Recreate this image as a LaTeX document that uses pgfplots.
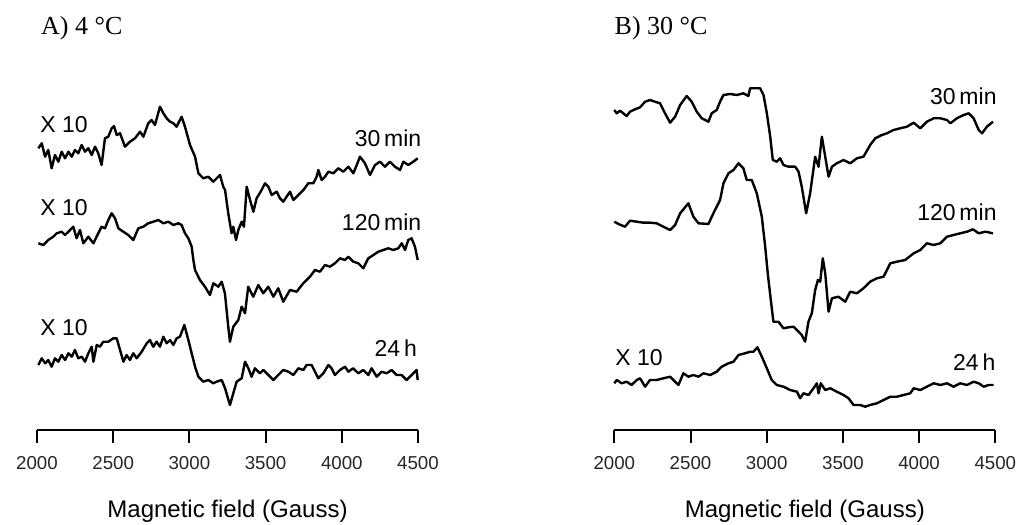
\documentclass[border=0pt]{standalone}
\usepackage{fontspec}
\setmainfont{Liberation Sans}
\newfontfamily\seriffont{Liberation Serif}
\usepackage{pgfplots}
\pgfplotsset{compat=1.18}
\tikzset{lab/.style={inner sep=0pt, font=\fontsize{11.5}{13}\selectfont},
  trace/.style={black, no markers, line width=1.2pt, line join=round}}
\pgfplotsset{
  epr/.style={
    scale only axis, width=190.5pt, height=175pt,
    xmin=2000, xmax=4500, ymin=0, ymax=350,
    axis x line*=bottom, hide y axis, clip=false,
    xtick={2000,2500,3000,3500,4000,4500},
    xtick pos=bottom, tick align=outside,
    major tick length=6.5pt,
    axis line style={line width=1pt, black},
    every tick/.style={line width=1pt, black},
    /pgf/number format/1000 sep={},
    /pgf/number format/assume math mode=true,
    xticklabel style={font=\fontsize{9.35}{11}\selectfont, text=black!85, anchor=center, yshift=-10pt},
    xlabel={Magnetic field (Gauss)},
    xlabel style={at={(axis description cs:0.5,0)}, anchor=center, yshift=-40.5pt, font=\fontsize{12}{14}\selectfont},
  },
}
\begin{document}
\begin{tikzpicture}
\useasboundingbox (0,0) rectangle (509pt,262.5pt);
% ---------------- Panel A ----------------
\begin{axis}[epr, at={(18.5pt,47.5pt)}, anchor=south west]
% 30 min
\addplot[trace] table {
x y
2009 281.7
2031 286.7
2053 273.3
2074 280
2096 261.7
2118 275
2140 268.3
2162 278.3
2184 271.7
2206 278.3
2228 273.3
2249 280
2271 276.7
2293 285
2315 278.3
2337 281.7
2359 275
2381 283.3
2402 276.7
2424 265
2446 291.7
2468 293.3
2490 301.7
2505 304
2523 295
2545 296.7
2577 283.3
2610 288.3
2643 291.7
2676 298.3
2698 293.3
2730 306.7
2752 310
2774 305
2807 323.3
2829 316.7
2851 311.7
2873 308.3
2895 306.7
2916 303.3
2949 313.3
2971 303.3
3004 285
3037 273.3
3059 256.7
3091 251.7
3124 253.3
3157 248.3
3179 251.7
3201 255
3222 243.3
3234 240
3255 216.7
3277 196.7
3288 203.3
3306 190
3321 200
3343 208.3
3358 203.3
3376 243.3
3398 230
3420 218.3
3441 231.7
3474 240
3496 246.7
3518 243.3
3540 235
3573 238.3
3594 231.7
3616 228.3
3638 233.3
3660 238.3
3682 230
3715 235
3748 240
3780 246.7
3813 246.7
3835 253.3
3846 260
3868 250
3890 253.3
3912 258.3
3944 256.7
3977 261.7
4010 258.3
4043 263.3
4076 256.7
4098 265
4119 273.3
4152 266.7
4185 255
4218 265
4251 268.3
4283 263.3
4316 268.3
4349 263.3
4382 260
4404 268.3
4436 265
4469 268.3
4498 271.7
};
% 120 min
\addplot[trace] table {
x y
2009 186.7
2042 185
2074 190
2107 193.3
2129 196.7
2162 198.3
2184 195
2217 200
2238 203.3
2260 191.7
2282 200
2304 186.7
2337 193.3
2370 186.7
2402 196.7
2424 203.3
2446 201.7
2468 210
2490 216.7
2512 211.7
2534 201.7
2566 198.3
2599 195
2632 190
2665 201.7
2698 203.3
2730 206.7
2763 208.3
2796 210
2829 206.7
2862 208.3
2895 205
2927 206.7
2949 205
2971 196.7
2993 191.7
3015 183.3
3026 170
3037 160
3069 150
3102 143.3
3135 135
3157 146.7
3190 143.3
3212 148.3
3233 136.7
3255 103.3
3266 88.3
3288 103.3
3321 110
3343 123.3
3365 116.7
3386 143.3
3419 133.3
3452 145
3485 136.7
3518 143.3
3551 133.3
3583 141.7
3616 128.3
3660 140
3704 138.3
3747 146.7
3791 153.3
3824 160
3857 158.3
3890 165
3922 163.3
3955 166.7
3988 171.7
4021 170
4043 173.3
4076 168.3
4108 166.7
4141 161.7
4174 171.7
4207 175
4240 178.3
4272 180
4305 181.7
4338 180
4371 181.7
4393 186.7
4415 180
4436 190
4458 191.7
4480 183.3
4498 170
};
% 24 h
\addplot[trace] table {
x y
2009 65
2031 71.7
2053 66.7
2074 70
2096 63.3
2118 71.7
2140 68.3
2162 75
2184 70
2206 76.7
2228 73.3
2249 80
2271 71.7
2293 73.3
2315 68.3
2337 76.7
2359 83.3
2370 68.3
2392 85
2413 83.3
2435 88.3
2468 88.3
2501 91.7
2523 91.7
2545 80
2567 68.3
2588 75
2610 70
2632 76.7
2654 71.7
2687 78.3
2720 86.7
2741 90
2763 83.3
2785 88.3
2807 83.3
2829 93.3
2851 86.7
2873 90
2895 85
2916 91.7
2938 93.3
2967 105
2993 90
3015 76.7
3037 63.3
3059 53.3
3091 48.3
3124 50
3157 46.7
3179 48.3
3212 50
3234 41.7
3266 25
3288 36.7
3310 48.3
3343 51.7
3365 68.3
3387 61.7
3408 53.3
3430 61.7
3463 56.7
3485 60
3518 55
3551 50
3583 55
3616 60
3649 58.3
3682 55
3715 61.7
3748 60
3769 65
3802 65
3824 58.3
3846 51.7
3879 56.7
3912 65
3933 61.7
3955 55
3988 60
4021 63.3
4043 58.3
4075 61.7
4108 56.7
4141 60
4174 55
4196 61.7
4229 53.3
4261 58.3
4294 56.7
4327 60
4360 55
4393 55
4425 50
4458 55
4491 60
4498 50
};
\node[lab, anchor=west] at (axis cs:2020,305) {X 10};
\node[lab, anchor=east] at (axis cs:4524,292) {30\,min};
\node[lab, anchor=west] at (axis cs:2020,222) {X 10};
\node[lab, anchor=east] at (axis cs:4524,208) {120\,min};
\node[lab, anchor=west] at (axis cs:2020,102) {X 10};
\node[lab, anchor=east] at (axis cs:4495,82) {24\,h};
\node[inner sep=0pt, anchor=west, font=\seriffont\fontsize{13}{15}\selectfont] at (axis description cs:0.01,1.147) {A) 4 °C};
\end{axis}
% ---------------- Panel B ----------------
\begin{axis}[epr, at={(307.15pt,47.5pt)}, anchor=south west]
% 30 min
\addplot[trace] table {
x y
2000 320
2016 316.7
2037 319.3
2059 316.7
2081 314
2103 318.3
2136 320.7
2169 322.7
2202 328.3
2234 330
2267 328.3
2300 326.7
2333 316.7
2366 307.3
2399 313.3
2432 325
2475 334
2508 328.3
2541 318.3
2574 311.7
2618 308.3
2639 316.7
2672 320
2694 328.3
2716 335
2760 336
2804 335
2847 336.7
2880 334
2891 341.7
2924 341.7
2957 341.7
2979 335
3001 316.7
3023 293.3
3040 270
3066 268.3
3088 271.7
3110 265
3143 263.3
3187 263.3
3209 258.3
3230 243.3
3259 216.7
3285 236.7
3318 273.3
3340 263.3
3362 293.3
3384 273.3
3406 253.3
3428 263.3
3460 266.7
3504 270
3548 266.7
3592 271.7
3635 273.3
3679 285
3712 291.7
3756 295
3789 296.7
3832 300
3876 301.7
3920 303.3
3964 307.3
4008 301.7
4051 308.3
4095 311.7
4139 311.7
4183 310
4205 306.7
4248 311.7
4292 315
4325 316.7
4358 311.7
4391 300
4413 296.7
4445 303.3
4485 308.3
};
% 120 min
\addplot[trace] table {
x y
2000 208.3
2027 206
2070 203.3
2103 209.3
2147 208.3
2191 207.3
2234 207.3
2278 206.7
2322 203.3
2366 200
2399 205
2432 216.7
2486 226.7
2519 213.3
2552 206.7
2618 206
2650 216.7
2694 230
2716 246.7
2749 256.7
2782 260
2815 266.7
2847 261.7
2869 250
2902 250
2935 236.7
2968 213.3
2990 183.3
3008 155
3027 130
3044 108.3
3077 108.3
3110 101.7
3143 102.7
3176 103.3
3198 100
3230 95
3252 88.3
3274 108.3
3296 116.7
3318 140
3336 150
3351 148.3
3368 171.7
3384 156.7
3406 118.3
3428 131.7
3471 133.3
3515 128.3
3548 138.3
3592 136.7
3635 141.7
3679 148.3
3723 151.7
3767 153.3
3811 166.7
3854 168.3
3909 170
3964 176.7
4008 180
4051 186.7
4095 185
4139 186.7
4183 193.3
4226 195
4270 196.7
4314 198.3
4353 200.7
4391 196.7
4434 198.3
4485 196.7
};
% 24 h
\addplot[trace] table {
x y
2000 46.7
2016 50
2048 46.7
2081 48.3
2114 45
2147 50
2169 51.7
2202 43.3
2234 50
2278 50
2322 51.7
2366 53.3
2399 48.3
2421 45
2453 56.7
2486 53.3
2519 55
2552 53.3
2585 56.7
2629 55
2672 58.3
2705 63.3
2749 66.7
2782 68.3
2815 75
2858 76.7
2891 78.3
2913 78.3
2939 82.7
2968 73.3
3001 61.7
3033 50
3066 45
3110 43.3
3154 40
3198 38.3
3220 31.7
3241 36.7
3274 35
3307 41.7
3329 46.7
3340 36.7
3355 46.7
3384 40
3417 41.7
3460 38.3
3504 35
3537 31.7
3570 25
3614 25
3646 23.3
3679 25
3723 26.7
3767 30
3811 33.3
3854 33.3
3898 35
3942 36.7
3964 41.7
4008 40
4051 43.3
4095 46.7
4139 45
4183 46.7
4226 43.3
4270 46.7
4314 45
4358 48.3
4391 46.7
4424 43.3
4456 45
4489 45
};
\node[lab, anchor=east] at (axis cs:4511,334) {30\,min};
\node[lab, anchor=east] at (axis cs:4511,218) {120\,min};
\node[lab, anchor=west] at (axis cs:2005,72) {X 10};
\node[lab, anchor=east] at (axis cs:4503,68) {24\,h};
\node[inner sep=0pt, anchor=west, font=\seriffont\fontsize{13}{15}\selectfont] at (axis description cs:0,1.147) {B) 30 °C};
\end{axis}
\end{tikzpicture}
\end{document}
